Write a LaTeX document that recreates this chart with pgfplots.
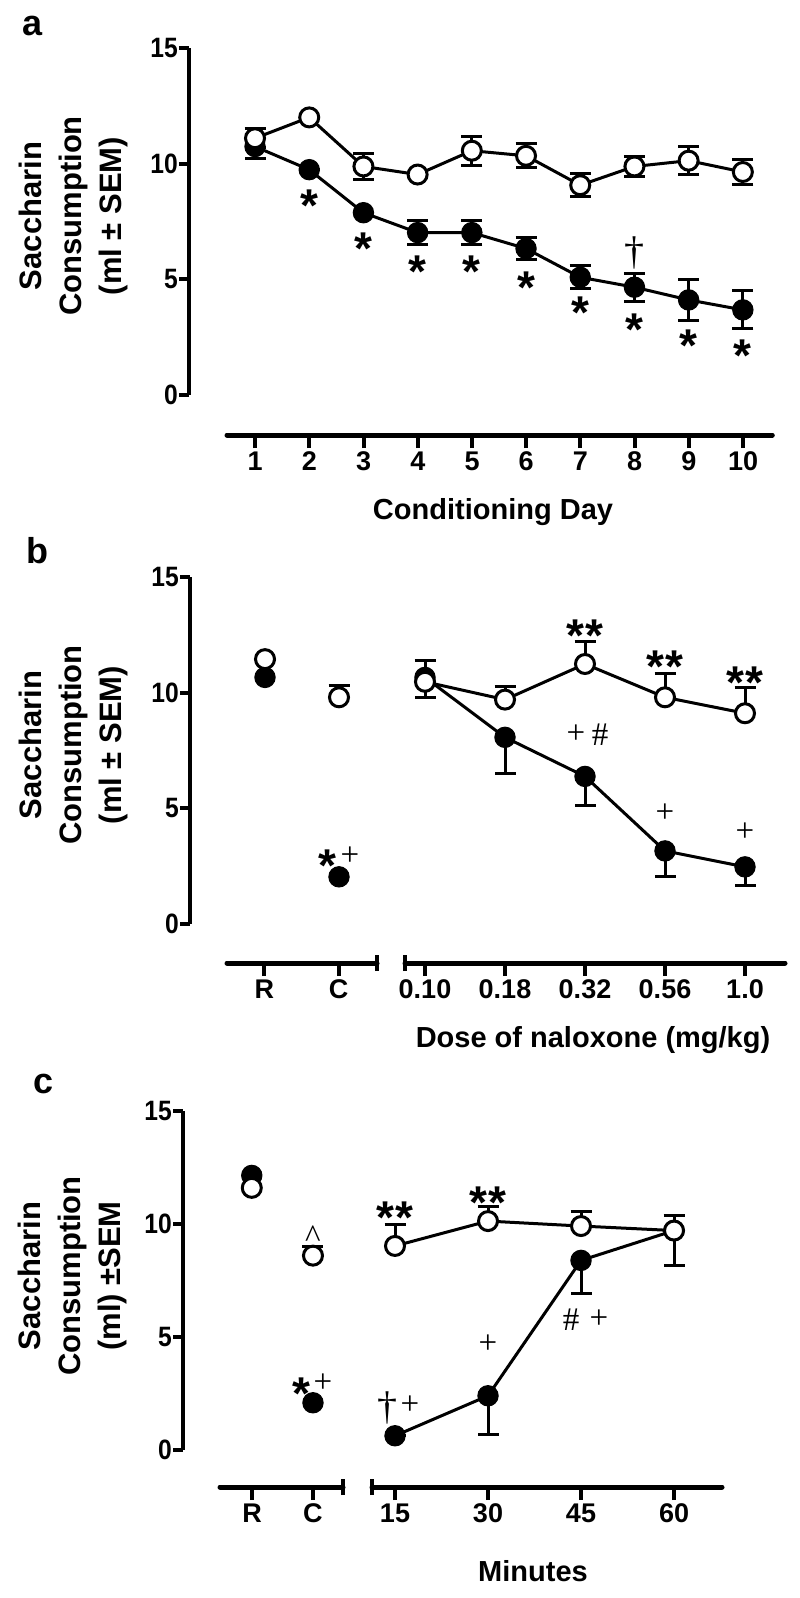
\documentclass[border=0pt]{standalone}
\usepackage{fontspec}
\setmainfont{Liberation Sans}
\newfontfamily\condfont[FakeStretch=0.88]{Liberation Sans}
\newfontfamily\serifont{Liberation Serif}
\usepackage{pgfplots}
\pgfplotsset{compat=1.18}

\pgfplotsset{
  dataax/.style={scale only axis, clip=false, ymin=0, ymax=15,
    axis x line=none, axis y line=left,
    y axis line style={line width=4.5pt, -},
    ytick={0,5,10,15}, yticklabels={0,5,10,15},
    tick align=outside, major tick length=10pt,
    y tick style={line width=4pt, black},
    yticklabel style={font=\condfont\bfseries\fontsize{28}{28}\selectfont, inner sep=1pt},
    anchor=south west},
  xax/.style={scale only axis, clip=false, ymin=0, ymax=1, height=10pt,
    axis y line=none, axis x line=bottom,
    x axis line style={line width=5pt, -, line cap=round},
    tick align=outside, major tick length=13pt,
    x tick style={line width=4pt, black},
    xticklabel style={font=\bfseries\fontsize{27}{27}\selectfont},
    anchor=south west},
  fil/.style={black, line width=3pt, mark=*, mark size=10.2pt,
    mark options={fill=black, draw=black, line width=1pt}},
  opn/.style={black, line width=3pt, mark=*, mark size=9.5pt,
    mark options={fill=white, draw=black, line width=3pt}},
  eb/.style={error bars/.cd, y explicit, y dir=#1,
    error bar style={line width=3pt, black},
    error mark options={rotate=90, line width=3pt, mark size=10.5pt, black}},
}
\tikzset{
  st/.style={font=\bfseries\fontsize{46}{46}\selectfont, inner sep=0pt, yshift=-9pt},
  sr/.style={font=\serifont\fontsize{33}{33}\selectfont, inner sep=0pt},
  dg/.style={font=\serifont\fontsize{40}{40}\selectfont, inner sep=0pt},
  ylab/.style={rotate=90, align=center, font=\bfseries\fontsize{31}{40}\selectfont},
  xlab/.style={font=\bfseries\fontsize{29}{29}\selectfont},
  plab/.style={font=\bfseries\fontsize{36}{36}\selectfont, inner sep=0pt},
  brk/.style={line width=4pt},
}
\newcommand{\sst}{*\kern2pt*}

\begin{document}
\begin{tikzpicture}[x=1pt,y=1pt]
\path[use as bounding box] (0,0) rectangle (800,-1598);

% ================= Panel a =================
\node[plab] at (33,-26) {a};
\node[ylab] at (73,-216) {Saccharin\\Consumption\\(ml ± SEM)};
\node[xlab] at (493,-512) {Conditioning Day};

\begin{axis}[dataax, at={(189pt,-395pt)}, width=583.1pt, height=347pt,
  xmin=-0.218, xmax=10.54]
\addplot+[fil, eb=both] coordinates {
 (1,10.74) +- (0,0.5) (2,9.74) +- (0,0) (3,7.88) +- (0,0) (4,7.02) +- (0,0.52)
 (5,7.02) +- (0,0.52) (6,6.33) +- (0,0.47) (7,5.09) +- (0,0.5) (8,4.66) +- (0,0.6)
 (9,4.11) +- (0,0.9) (10,3.68) +- (0,0.82)};
\addplot+[opn, eb=both] coordinates {
 (1,11.1) +- (0,0.42) (2,12.0) +- (0,0) (3,9.88) +- (0,0.55) (4,9.53) +- (0,0)
 (5,10.56) +- (0,0.62) (6,10.34) +- (0,0.52) (7,9.07) +- (0,0.5) (8,9.88) +- (0,0.45)
 (9,10.13) +- (0,0.6) (10,9.64) +- (0,0.52)};
\node[st] at (2,8.56) {*};
\node[st] at (3,6.73) {*};
\node[st] at (4,5.73) {*};
\node[st] at (5,5.73) {*};
\node[st] at (6,5.01) {*};
\node[st] at (7,3.94) {*};
\node[st] at (8,3.22) {*};
\node[st] at (9,2.51) {*};
\node[st] at (10,2.08) {*};
\node[dg] at (8,6.16) {†};
\end{axis}

\begin{axis}[xax, at={(227pt,-435pt)}, width=545.3pt, xmin=0.48, xmax=10.54,
  xtick={1,2,3,4,5,6,7,8,9,10}, xticklabels={1,2,3,4,5,6,7,8,9,10}]
\end{axis}

% ================= Panel b =================
\node[plab] at (37,-551) {b};
\node[ylab] at (73,-745) {Saccharin\\Consumption\\(ml ± SEM)};
\node[xlab] at (593,-1040) {Dose of naloxone (mg/kg)};

\begin{axis}[dataax, at={(190pt,-924pt)}, width=595pt, height=347pt,
  xmin=-2.9375, xmax=4.5]
\addplot+[fil, eb=minus] coordinates {
 (0,10.66) +- (0,0.86) (1,8.07) +- (0,1.58) (2,6.38) +- (0,1.25)
 (3,3.16) +- (0,1.09) (4,2.47) +- (0,0.82)};
\addplot+[opn, eb=plus] coordinates {
 (0,10.47) +- (0,0.91) (1,9.7) +- (0,0.57) (2,11.24) +- (0,0.97)
 (3,9.8) +- (0,1.05) (4,9.11) +- (0,1.12)};
\addplot+[fil, only marks] coordinates {(-2,10.66) (-1.075,2.04)};
\addplot+[opn, only marks, eb=plus] coordinates {(-2,11.45) +- (0,0) (-1.075,9.8) +- (0,0.53)};
\node[st] at (2,12.85) {\sst};
\node[st] at (3,11.52) {\sst};
\node[st] at (4,10.8) {\sst};
\node[sr, xshift=-9pt] at (2,8.2) {+};
\node[sr, xshift=15pt] at (2,8.2) {\#};
\node[sr] at (3,4.77) {+};
\node[sr] at (4,3.98) {+};
\node[st, xshift=-12pt] at (-1.075,2.9) {*};
\node[sr, xshift=11pt] at (-1.075,2.95) {+};
\end{axis}

\begin{axis}[xax, at={(227pt,-963pt)}, width=150pt, xmin=-2.4625, xmax=-0.6,
  xtick={-2,-1.075}, xticklabels={R,C}]
\draw[brk] ([yshift=-8pt]rel axis cs:1,0) -- ([yshift=8pt]rel axis cs:1,0);
\end{axis}
\begin{axis}[xax, at={(405pt,-963pt)}, width=380pt, xmin=-0.25, xmax=4.5,
  xtick={0,1,2,3,4}, xticklabels={0.10,0.18,0.32,0.56,1.0}]
\draw[brk] ([yshift=-8pt]rel axis cs:0,0) -- ([yshift=8pt]rel axis cs:0,0);
\end{axis}

% ================= Panel c =================
\node[plab] at (44,-1084) {c};
\node[ylab] at (72,-1276) {Saccharin\\Consumption\\(ml) ±SEM};
\node[xlab] at (533,-1571) {Minutes};

\begin{axis}[dataax, at={(183pt,-1450pt)}, width=539pt, height=339pt,
  xmin=-2.2796, xmax=3.516]
\addplot+[fil, eb=minus] coordinates {
 (0,0.63) +- (0,0) (1,2.4) +- (0,1.72) (2,8.39) +- (0,1.48) (3,9.71) +- (0,1.54)};
\addplot+[opn, eb=plus] coordinates {
 (0,9.03) +- (0,0.94) (1,10.13) +- (0,0.63) (2,9.91) +- (0,0.66) (3,9.71) +- (0,0.65)};
\addplot+[fil, only marks] coordinates {(-1.54,12.15) (-0.882,2.09)};
\addplot+[opn, only marks, eb=plus] coordinates {(-1.54,11.6) +- (0,0) (-0.882,8.6) +- (0,0.42)};
\node[st] at (0,10.7) {\sst};
\node[st] at (1,11.35) {\sst};
\node[sr] at (-0.882,9.45) {\textasciicircum};
\node[st, xshift=-12pt] at (-0.882,2.9) {*};
\node[sr, xshift=10pt] at (-0.882,2.95) {+};
\node[dg, xshift=-8pt] at (0,1.85) {†};
\node[sr, xshift=15pt] at (0,2.0) {+};
\node[sr] at (1,4.68) {+};
\node[sr, xshift=-10pt] at (2,5.78) {\#};
\node[sr, xshift=18pt] at (2,5.78) {+};
\end{axis}

\begin{axis}[xax, at={(220pt,-1487pt)}, width=123pt, xmin=-1.8817, xmax=-0.5591,
  xtick={-1.5376,-0.882}, xticklabels={R,C}]
\draw[brk] ([yshift=-8pt]rel axis cs:1,0) -- ([yshift=8pt]rel axis cs:1,0);
\end{axis}
\begin{axis}[xax, at={(372pt,-1487pt)}, width=350pt, xmin=-0.2473, xmax=3.516,
  xtick={0,1,2,3}, xticklabels={15,30,45,60}]
\draw[brk] ([yshift=-8pt]rel axis cs:0,0) -- ([yshift=8pt]rel axis cs:0,0);
\end{axis}
\end{tikzpicture}
\end{document}
